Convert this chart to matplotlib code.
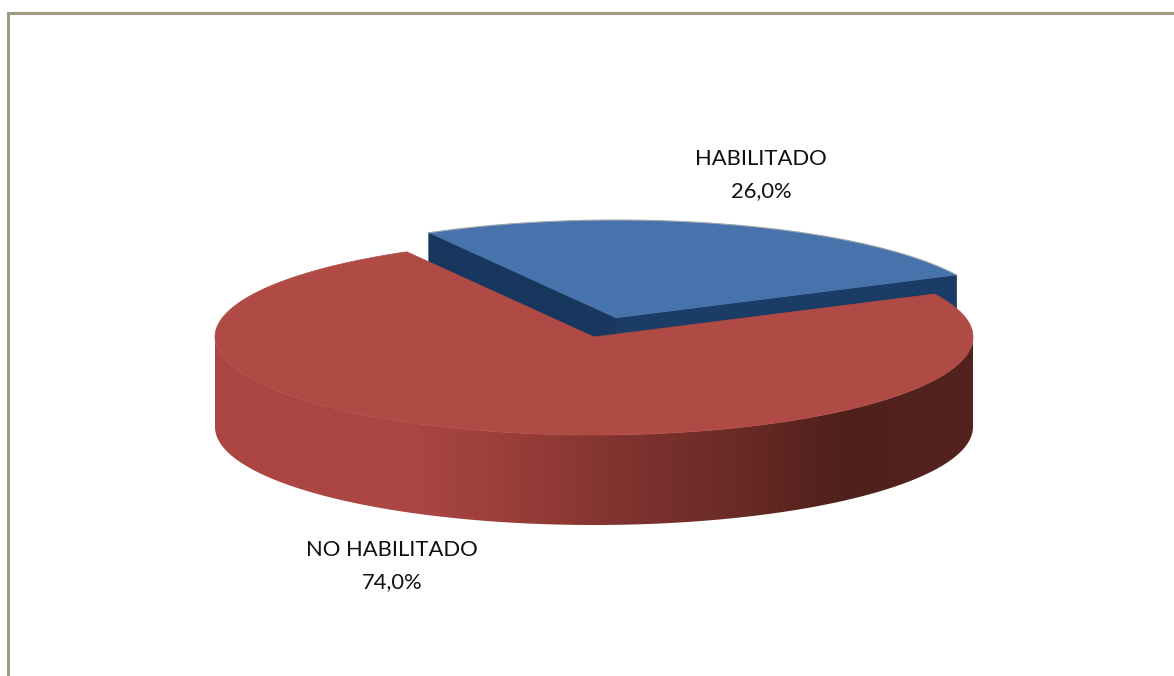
import numpy as np
import matplotlib
matplotlib.use("Agg")
import matplotlib.pyplot as plt
from matplotlib.colors import LinearSegmentedColormap
from matplotlib.patches import Polygon

labels = ["HABILITADO", "NO HABILITADO"]
values = [26.0, 74.0]
percent_labels = ["26,0%", "74,0%"]

W, H = 1174, 676
plt.rcParams["font.family"] = ["Lato", "DejaVu Sans"]
fig = plt.figure(figsize=(W / 100, H / 100), dpi=100, facecolor="white")
ax = fig.add_axes([0, 0, 1, 1])
ax.set_xlim(0, W)
ax.set_ylim(H, 0)
ax.axis("off")

CX, CY, RX, RY, DEPTH = 594, 337, 379, 98, 90
EX_DX, EX_DY = 22, -19
START = 26.0


def rim(a0, a1, cx=CX, cy=CY):
    t = np.radians(np.linspace(a0, a1, 300))
    return np.c_[cx + RX * np.cos(t), cy - RY * np.sin(t)]


frac = np.array(values) / sum(values) * 360
blue_a0, blue_a1 = START, START + frac[0]
red_a0, red_a1 = blue_a1, blue_a1 + frac[1]

# blue slice, pulled out of the pie
bx, by = CX + EX_DX, CY + EX_DY
blue_apex = np.array([[bx, by]])
blue_rim = rim(blue_a0, blue_a1, bx, by)
for corner, col in ((blue_rim[-1], "#17375e"), (blue_rim[0], "#1b3c66")):
    wall = np.array([corner, blue_apex[0], blue_apex[0] + [0, DEPTH], corner + [0, DEPTH]])
    ax.add_patch(Polygon(wall, closed=True, fc=col, ec=col, lw=0.5, zorder=2))
ax.add_patch(Polygon(np.r_[blue_apex, blue_rim], closed=True, fc="#4673ac", ec="none", zorder=3))
ax.plot(blue_rim[:, 0], blue_rim[:, 1], color="#a0a4aa", lw=0.8, zorder=3.1)

# red side wall with horizontal shading
side_top = rim(180, 360)
side_poly = np.r_[side_top, side_top[::-1] + [0, DEPTH]]
cmap = LinearSegmentedColormap.from_list(
    "side",
    [(0.0, "#ab4541"), (0.25, "#ac4744"), (0.40, "#983d39"), (0.55, "#7e322e"),
     (0.70, "#682a25"), (0.83, "#4f201c"), (1.0, "#54231f")],
)
grad = np.linspace(0, 1, 512).reshape(1, -1)
im = ax.imshow(grad, cmap=cmap, extent=(CX - RX, CX + RX, CY + RY + DEPTH, CY), aspect="auto", zorder=4)
clip = Polygon(side_poly, closed=True, transform=ax.transData, fc="none", ec="none")
ax.add_patch(clip)
im.set_clip_path(clip)
ax.set_xlim(0, W)
ax.set_ylim(H, 0)

# red slice top
red_rim = rim(red_a0, red_a1)
ax.add_patch(Polygon(np.r_[[[CX, CY]], red_rim], closed=True, fc="#b04a44", ec="#b04a44", lw=0.5, zorder=5))

ax.text(761, 175, f"{labels[0]}\n{percent_labels[0]}", ha="center", va="center",
        fontsize=15.8, color="#111111", linespacing=1.8, zorder=6)
ax.text(392, 566, f"{labels[1]}\n{percent_labels[1]}", ha="center", va="center",
        fontsize=15.8, color="#111111", linespacing=1.8, zorder=6)

# frame
ax.plot([7.5, 7.5, W], [H, 12.5, 12.5], color="#a09a82", lw=2.2, solid_joinstyle="miter", zorder=7)

fig.savefig("out.png", dpi=100, facecolor="white")
